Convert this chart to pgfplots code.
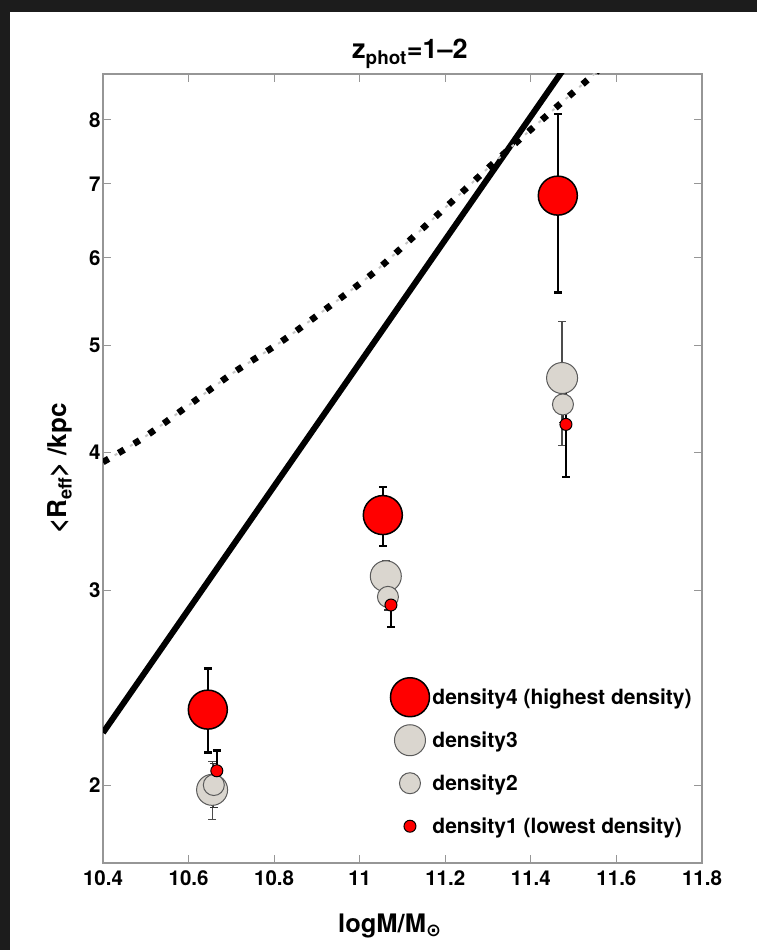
\documentclass[border=0pt]{standalone}
\usepackage{fontspec}
\setmainfont{TeX Gyre Heros}
\newfontfamily\dejavu{DejaVu Sans}
\usepackage{pgfplots}
\pgfplotsset{compat=1.18}
\definecolor{mred}{rgb}{1,0,0}
\definecolor{mgrey}{RGB}{218,214,207}
\definecolor{medge}{RGB}{90,90,90}
\definecolor{axgrey}{RGB}{150,150,150}
\definecolor{bgdark}{RGB}{28,28,28}
\begin{document}
\begin{tikzpicture}[x=1pt,y=1pt]
\fill[bgdark] (0,0) rectangle (757,950);
\fill[white] (10,0) rectangle (757,938);
\useasboundingbox (0,0) rectangle (757,950);
\begin{axis}[
  at={(103pt,87pt)}, anchor=south west, scale only axis,
  width=599pt, height=789pt,
  xmin=10.4, xmax=11.8, ymin=1.7, ymax=8.8, ymode=log,
  xtick={10.4,10.6,10.8,11,11.2,11.4,11.6,11.8},
  xticklabels={10.4,10.6,10.8,11,11.2,11.4,11.6,11.8},
  ytick={2,3,4,5,6,7,8},
  yticklabels={2,3,4,5,6,7,8},
  minor ytick={}, minor xtick={},
  tick align=inside, major tick length=8pt,
  axis line style={axgrey, line width=1.2pt},
  every tick/.style={axgrey, line width=1pt},
  tick label style={font=\fontsize{20.5}{24}\selectfont\bfseries},
  xticklabel style={yshift=-4pt},
  yticklabel style={xshift=1pt},
  title={\fontsize{27}{32}\selectfont\bfseries z\textsubscript{phot}=1--2},
  title style={at={(axis description cs:0,1)}, anchor=base west, inner sep=0pt, xshift=249pt, yshift=9pt},
  xlabel={\fontsize{25.5}{30}\selectfont\bfseries logM/M\textsubscript{\dejavu ⊙}},
  xlabel style={at={(axis description cs:0,0)}, anchor=base west, inner sep=0pt, xshift=235pt, yshift=-70pt},
  ylabel={\fontsize{26}{30}\selectfont\bfseries <R\textsubscript{eff}> /kpc},
  every axis y label/.style={at={(axis description cs:-0.0601,0.5)}, rotate=90, anchor=base, inner sep=0pt},
  clip=true,
  legend cell align=left,
  legend style={draw=none, fill=none, inner xsep=0pt, inner ysep=0pt,
    at={(axis description cs:0.4796,0.2376)}, anchor=north west,
    nodes={inner sep=0pt, minimum height=43pt, font=\fontsize{21}{24}\selectfont\bfseries},
    /tikz/column sep=3pt, /tikz/row sep=0pt},
]
% model relations
\addplot[black, line width=6pt, forget plot] coordinates {(10.4,2.23) (11.5,9.16)};
\addplot[gray!45, line width=2pt, dash pattern=on 3pt off 15pt, dash phase=-13.5pt, smooth, forget plot] coordinates {
(10.4,3.92) (10.493,4.12) (10.596,4.40) (10.704,4.72) (10.814,5.03) (10.923,5.40)
(11.031,5.81) (11.124,6.26) (11.218,6.76) (11.311,7.30) (11.405,7.87) (11.538,8.73) (11.561,8.90)};
\addplot[black, line width=6.5pt, dash pattern=on 6.5pt off 11.5pt, smooth, forget plot] coordinates {
(10.4,3.92) (10.493,4.12) (10.596,4.40) (10.704,4.72) (10.814,5.03) (10.923,5.40)
(11.031,5.81) (11.124,6.26) (11.218,6.76) (11.311,7.30) (11.405,7.87) (11.538,8.73) (11.561,8.90)};
% density4
\addplot[only marks, mark=*, mark size=19.5pt, mark options={fill=mred, draw=black, line width=1.5pt},
  error bars/.cd, y dir=both, y explicit,
  error bar style={black, line width=2.5pt},
  error mark options={rotate=90, mark size=4pt, line width=2.5pt, black}]
  coordinates {(10.645,2.34) += (0,0.21) -= (0,0.20)
               (11.054,3.51) += (0,0.21) -= (0,0.22)
               (11.463,6.83) += (0,1.27) -= (0,1.25)};
\addlegendentry{density4 (highest density)}
% density3
\addplot[only marks, mark=*, mark size=15.5pt, mark options={fill=mgrey, draw=medge, line width=1pt},
  error bars/.cd, y dir=both, y explicit,
  error bar style={black!70, line width=1.2pt},
  error mark options={rotate=90, mark size=4pt, line width=1.2pt, black!70}]
  coordinates {(10.655,1.98) += (0,0.12) -= (0,0.12)
               (11.061,3.09) += (0,0.10) -= (0,0.10)
               (11.473,4.67) += (0,0.58) -= (0,0.61)};
\addlegendentry{density3}
% density2
\addplot[only marks, mark=*, mark size=10.5pt, mark options={fill=mgrey, draw=medge, line width=1pt},
  error bars/.cd, y dir=both, y explicit,
  error bar style={black!80, line width=1.2pt},
  error mark options={rotate=90, mark size=4pt, line width=1.2pt, black!80}]
  coordinates {(10.659,2.00) += (0,0.09) -= (0,0.09)
               (11.066,2.96) += (0,0.08) -= (0,0.08)
               (11.475,4.42) += (0,0.16) -= (0,0.16)};
\addlegendentry{density2}
% density1
\addplot[only marks, mark=*, mark size=6pt, mark options={fill=mred, draw=black, line width=1pt},
  error bars/.cd, y dir=both, y explicit,
  error bar style={black, line width=2.5pt},
  error mark options={rotate=90, mark size=4pt, line width=2.5pt, black}]
  coordinates {(10.666,2.06) += (0,0.09) -= (0,0.09)
               (11.073,2.91) += (0,0.13) -= (0,0.13)
               (11.482,4.24) += (0,0.42) -= (0,0.44)};
\addlegendentry{density1 (lowest density)}
\end{axis}
\end{tikzpicture}
\end{document}
